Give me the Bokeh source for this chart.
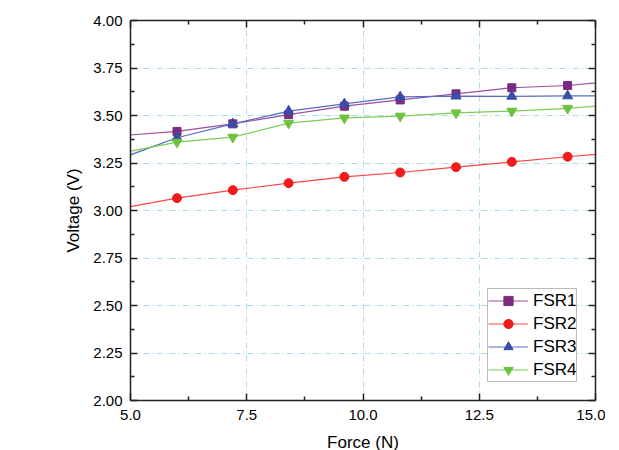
from bokeh.plotting import figure
from bokeh.models import Range1d, FixedTicker, LinearAxis, Legend, LegendItem, ColumnDataSource, NumeralTickFormatter
from bokeh.embed import file_html
from bokeh.resources import INLINE

force = [4.8, 6.0, 7.2, 8.4, 9.6, 10.8, 12.0, 13.2, 14.4, 15.6]
fsr1 = [3.394, 3.416, 3.456, 3.505, 3.549, 3.582, 3.614, 3.646, 3.658, 3.686]
fsr2 = [3.012, 3.065, 3.107, 3.144, 3.177, 3.200, 3.228, 3.256, 3.283, 3.307]
fsr3 = [3.275, 3.383, 3.456, 3.523, 3.561, 3.598, 3.602, 3.601, 3.603, 3.603]
fsr4 = [3.302, 3.360, 3.386, 3.460, 3.487, 3.497, 3.514, 3.523, 3.538, 3.560]
names = ["FSR1", "FSR2", "FSR3", "FSR4"]
x_ticks = [5.0, 7.5, 10.0, 12.5, 15.0]
x_minor = [6.25, 8.75, 11.25, 13.75]
y_ticks = [2.0, 2.25, 2.5, 2.75, 3.0, 3.25, 3.5, 3.75, 4.0]
y_minor = [2.125, 2.375, 2.625, 2.875, 3.125, 3.375, 3.625, 3.875]

FONT = "Liberation Sans"

p = figure(width=605, height=446, frame_width=465, frame_height=380,
           output_backend="svg", toolbar_location=None,
           x_range=Range1d(5, 15), y_range=Range1d(2, 4),
           x_axis_label="Force (N)", y_axis_label="Voltage (V)",
           min_border_left=130, min_border_top=20, min_border_right=10, min_border_bottom=46)
p.background_fill_color = "white"
p.border_fill_color = "white"
p.outline_line_color = None

xt = FixedTicker(ticks=x_ticks, minor_ticks=x_minor)
yt = FixedTicker(ticks=y_ticks, minor_ticks=y_minor)

p.add_layout(LinearAxis(), "above")
p.add_layout(LinearAxis(), "right")

for ax in p.xaxis:
    ax.ticker = xt
for ax in p.yaxis:
    ax.ticker = yt

for ax in p.axis:
    ax.axis_line_color = "#222222"
    ax.axis_line_width = 1.5
    ax.major_tick_in = 7
    ax.major_tick_out = 0
    ax.minor_tick_in = 4
    ax.minor_tick_out = 0
    ax.major_tick_line_color = "#222222"
    ax.major_tick_line_width = 1.5
    ax.minor_tick_line_color = "#222222"
    ax.minor_tick_line_width = 1.5
    ax.major_label_text_font = FONT
    ax.major_label_text_font_size = "15px"
    ax.major_label_text_color = "black"
    ax.axis_label_text_font = FONT
    ax.axis_label_text_font_size = "17px"
    ax.axis_label_text_font_style = "normal"
    ax.axis_label_text_color = "black"

p.above[0].major_label_text_color = None
p.right[0].major_label_text_color = None
p.above[0].major_label_text_font_size = "0px"
p.right[0].major_label_text_font_size = "0px"

p.below[0].major_label_standoff = 9
p.below[0].axis_label_standoff = 10
p.left[0].major_label_standoff = 8
p.left[0].axis_label_standoff = 7

p.below[0].formatter = NumeralTickFormatter(format="0.0")
p.left[0].formatter = NumeralTickFormatter(format="0.00")

for g in (p.xgrid[0], p.ygrid[0]):
    g.grid_line_color = "#a9dceb"
    g.grid_line_dash = "6 3 1 3"
    g.grid_line_width = 1
p.xgrid[0].ticker = xt
p.ygrid[0].ticker = yt

src = ColumnDataSource(dict(x=force, fsr1=fsr1, fsr2=fsr2, fsr3=fsr3, fsr4=fsr4))

series = [
    ("fsr1", "#9a4ea0", "#7b2b82", "square", 8),
    ("fsr2", "#ff4545", "#f21a1a", "circle", 9),
    ("fsr3", "#5a6bc4", "#3a4ca6", "triangle", 10),
    ("fsr4", "#7ccd55", "#6cc23c", "inverted_triangle", 10),
]
items = []
for (col, lc, mc, mk, sz), name in zip(series, names):
    l = p.line("x", col, source=src, line_color=lc, line_width=1.2)
    s = p.scatter("x", col, source=src, marker=mk, size=sz, fill_color=mc, line_color=mc)
    items.append(LegendItem(label=name, renderers=[l, s]))

legend = Legend(items=items, location=(357, 18))
legend.label_text_font = FONT
legend.label_text_font_size = "17px"
legend.label_text_color = "black"
legend.glyph_width = 40
legend.glyph_height = 23
legend.label_height = 23
legend.label_standoff = 5
legend.spacing = 0
legend.padding = 0
legend.margin = 0
legend.border_line_color = "#777777"
legend.border_line_width = 1
legend.background_fill_color = "white"
legend.background_fill_alpha = 1
p.add_layout(legend)

open("out.html", "w").write(file_html(p, INLINE))
